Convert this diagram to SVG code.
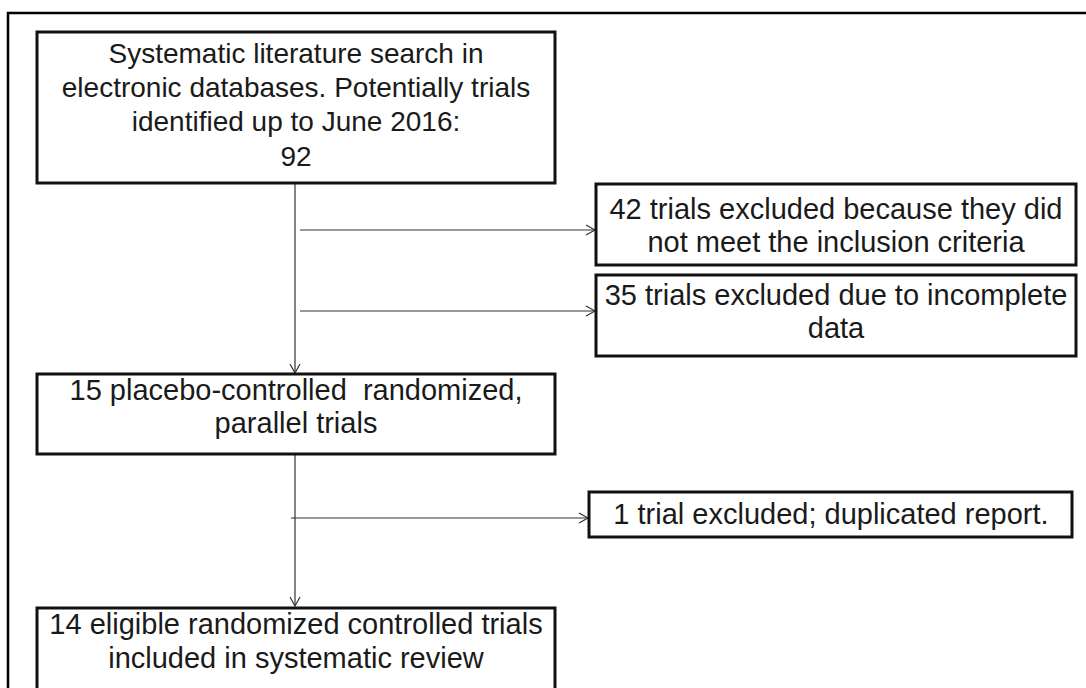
<svg xmlns="http://www.w3.org/2000/svg" width="1086" height="688" viewBox="0 0 1086 688">
<style>
.box{fill:#fff;stroke:#111;stroke-width:3}
.t{font-family:"Liberation Sans",Arial,sans-serif;font-size:29px;fill:#1a1a1a;text-anchor:middle}
.t1{font-size:28px}
.c{fill:none;stroke:#333;stroke-width:1.2}
.frame{fill:none;stroke:#000;stroke-width:2.5}
</style>
<defs>
<marker id="ah" markerWidth="12" markerHeight="12" refX="10" refY="6" orient="auto" markerUnits="userSpaceOnUse">
<path d="M1,1 L10,6 L1,11" fill="none" stroke="#333" stroke-width="1.2"/>
</marker>
</defs>
<rect width="1086" height="688" fill="#fff"/>
<path class="frame" d="M8,688 V13 H1086"/>
<g id="connectors">
<line class="c" x1="295" y1="183" x2="295" y2="373" marker-end="url(#ah)"/>
<line class="c" x1="300" y1="230" x2="595" y2="230" marker-end="url(#ah)"/>
<line class="c" x1="300" y1="311" x2="595" y2="311" marker-end="url(#ah)"/>
<line class="c" x1="295" y1="454" x2="295" y2="606" marker-end="url(#ah)"/>
<line class="c" x1="291" y1="518" x2="588" y2="518" marker-end="url(#ah)"/>
</g>
<g id="n1">
<rect class="box" x="37" y="32" width="518" height="151"/>
<text class="t t1" x="296" y="63">Systematic literature search in</text>
<text class="t t1" x="296" y="97">electronic databases. Potentially trials</text>
<text class="t t1" x="296" y="131">identified up to June 2016:</text>
<text class="t t1" x="296" y="166">92</text>
</g>
<g id="n2">
<rect class="box" x="596" y="184" width="480" height="81"/>
<text class="t" x="836" y="219">42 trials excluded because they did</text>
<text class="t" x="836" y="252">not meet the inclusion criteria</text>
</g>
<g id="n3">
<rect class="box" x="596" y="275" width="480" height="81"/>
<text class="t" x="836" y="305">35 trials excluded due to incomplete</text>
<text class="t" x="836" y="338">data</text>
</g>
<g id="n4">
<rect class="box" x="37" y="374" width="518" height="80"/>
<text class="t" x="296" y="400" style="white-space:pre">15 placebo-controlled  randomized,</text>
<text class="t" x="296" y="433">parallel trials</text>
</g>
<g id="n5">
<rect class="box" x="589" y="492" width="483" height="45"/>
<text class="t" x="831" y="524">1 trial excluded; duplicated report.</text>
</g>
<g id="n6">
<rect class="box" x="37" y="608" width="518" height="95"/>
<text class="t" x="296" y="634">14 eligible randomized controlled trials</text>
<text class="t" x="296" y="668">included in systematic review</text>
</g>
</svg>
